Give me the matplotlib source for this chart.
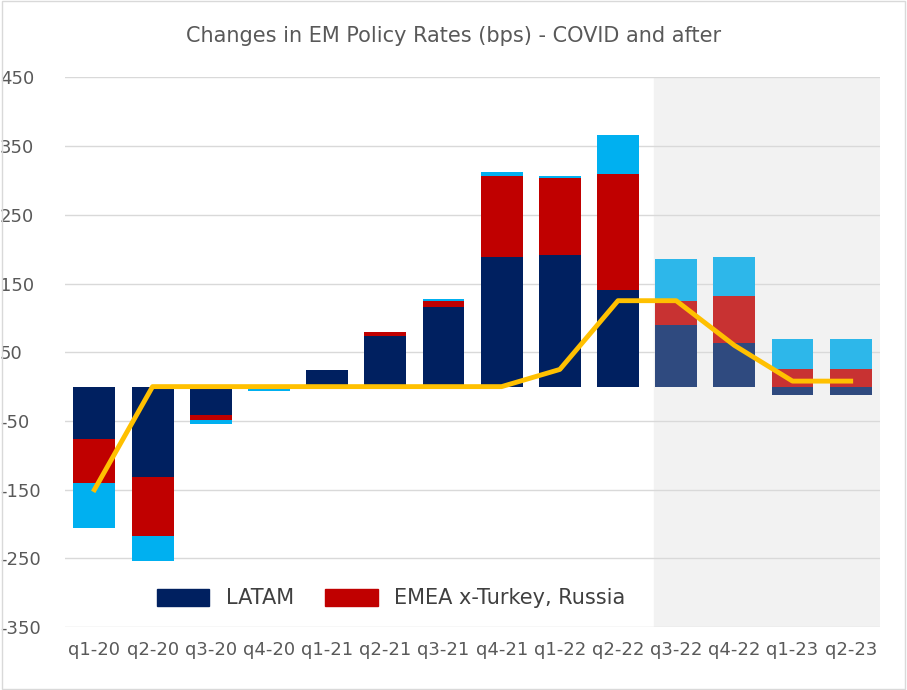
import matplotlib.pyplot as plt
import numpy as np
from matplotlib.patches import Rectangle

plt.rcParams["axes.unicode_minus"] = False

quarters = ["q1-20", "q2-20", "q3-20", "q4-20", "q1-21", "q2-21", "q3-21",
            "q4-21", "q1-22", "q2-22", "q3-22", "q4-22", "q1-23", "q2-23"]
latam = [-76, -131, -41, 0, 24, 73, 116, 188, 191, 140, 89, 63, -12, -12]
emea = [-64, -87, -8, 0, 0, 7, 9, 118, 113, 169, 36, 69, 25, 25]
asia = [-65, -36, -5, -6, -2, 0, 3, 6, 2, 57, 61, 57, 44, 44]
total_line = [-150, 0, 0, 0, 0, 0, 0, 0, 25, 125, 125, 60, 8, 8]

n_actual = 10  # q3-22 onward is forecast (lighter colours, shaded)

fig = plt.figure(figsize=(9.07, 6.9), dpi=100)
ax = fig.add_axes([0.072, 0.091, 0.898, 0.797])
fig.patches.append(Rectangle((0.002, 0.002), 0.996, 0.996, transform=fig.transFigure,
                             fill=False, edgecolor="#D9D9D9", lw=1))

x = np.arange(len(quarters))
ax.axvspan(9.62, 13.5, color="#F2F2F2", zorder=0)
for v in range(-350, 451, 100):
    ax.axhline(v, color="#D9D9D9", lw=1, zorder=1)

cols_a = ["#002060", "#C00000", "#00B0F0"]
cols_f = ["#2F4A7F", "#C83232", "#2DB7EA"]
w = 0.72
for i in x:
    cols = cols_a if i < n_actual else cols_f
    pos, neg = 0, 0
    for val, c in zip([latam[i], emea[i], asia[i]], cols):
        if val >= 0:
            ax.bar(i, val, w, bottom=pos, color=c, zorder=2)
            pos += val
        else:
            ax.bar(i, val, w, bottom=neg, color=c, zorder=2)
            neg += val

ax.plot(x, total_line, color="#FFC000", lw=3.5, zorder=3)

h1 = Rectangle((0, 0), 1, 1, color="#002060")
h2 = Rectangle((0, 0), 1, 1, color="#C00000")
ax.legend([h1, h2], ["LATAM", "EMEA x-Turkey, Russia"], loc="lower left",
          bbox_to_anchor=(0.09, 0.0), ncol=2, frameon=False, fontsize=15,
          labelcolor="#404040", handlelength=2.5, handleheight=0.9, columnspacing=1.5)

ax.set_xlim(-0.5, 13.5)
ax.set_ylim(-350, 450)
ax.set_yticks(range(-350, 451, 100))
ax.set_xticks(x)
ax.set_xticklabels(quarters)
ax.tick_params(length=0, labelsize=13, labelcolor="#595959")
ax.tick_params(axis="x", pad=10)
ax.tick_params(axis="y", pad=47)
for lbl in ax.get_yticklabels():
    lbl.set_horizontalalignment("left")
for s in ax.spines.values():
    s.set_visible(False)
fig.text(0.5, 0.948, "Changes in EM Policy Rates (bps) - COVID and after",
         ha="center", va="center", fontsize=15, color="#595959")

fig.savefig("out.png", dpi=100)
